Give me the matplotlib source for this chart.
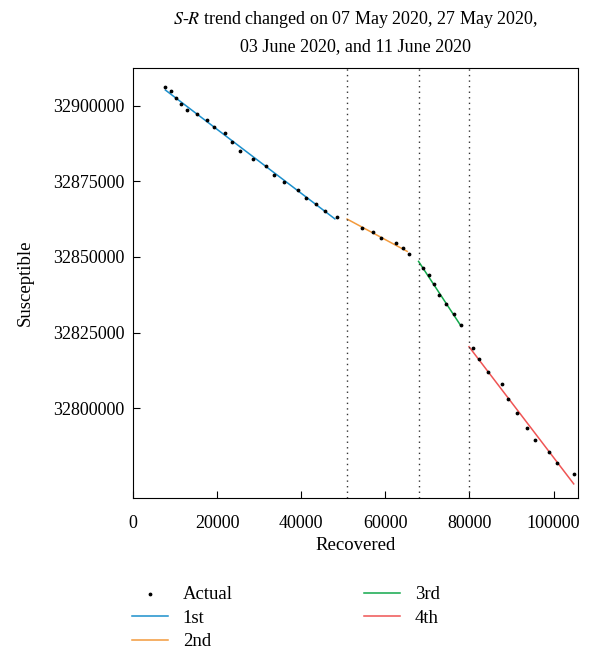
import numpy as np
import matplotlib.pyplot as plt

plt.rcParams['font.family'] = ['Liberation Serif', 'DejaVu Serif']
plt.rcParams['mathtext.fontset'] = 'stix'

x1 = [7700, 9040, 10300, 11320, 12810, 15250, 17530, 19180, 21860, 23580,
      25550, 28620, 31600, 33410, 36010, 39150, 41120, 43550, 45680, 48430]
y1 = [32906180, 32904860, 32902760, 32900770, 32898790, 32897240, 32895470,
      32892940, 32890950, 32888080, 32885210, 32882340, 32880130, 32877260,
      32874830, 32872300, 32869650, 32867660, 32865120, 32863250]
x2 = [54480, 57080, 58880, 62420, 64310, 65640]
y2 = [32859710, 32858170, 32856180, 32854530, 32852870, 32850880]
x3 = [68870, 70440, 71540, 72720, 74370, 76340, 77910]
y3 = [32846250, 32844040, 32840950, 32837420, 32834440, 32831130, 32827370]
x4 = [80820, 82310, 84430, 87810, 89150, 91270, 93630, 95520, 98820, 100790, 104800]
y4 = [32819980, 32816230, 32811920, 32807840, 32802980, 32798450, 32793270,
      32789510, 32785320, 32781680, 32778260]

breaks = [50900, 67900, 79900]
fit_ranges = [(7700, 48000), (50900, 65200), (67900, 77900), (79900, 104800)]
names = ['1st', '2nd', '3rd', '4th']
colors = ['#1b8fcc', '#f39a3c', '#12a84b', '#ef5454']

fig, ax = plt.subplots(figsize=(6.02, 6.65), dpi=100)
fig.subplots_adjust(left=0.221, right=0.96, top=0.898, bottom=0.251)

xs = np.array(x1 + x2 + x3 + x4)
ys = np.array(y1 + y2 + y3 + y4)
ax.scatter(xs, ys, s=3, color='black', zorder=3, label='Actual')

for xd, yd, (a, b), nm, c in zip([x1, x2, x3, x4], [y1, y2, y3, y4], fit_ranges, names, colors):
    p = np.polyfit(xd, yd, 1)
    xx = np.array([a, b])
    ax.plot(xx, np.polyval(p, xx), color=c, lw=1.1, label=nm)

for b in breaks:
    ax.axvline(b, color='#333333', ls=(0, (1, 3)), lw=1)

ax.set_xlim(0, 105800)
ax.set_ylim(32770200, 32912600)
ax.set_xticks([0, 20000, 40000, 60000, 80000, 100000])
ax.set_yticks([32800000, 32825000, 32850000, 32875000, 32900000])
ax.ticklabel_format(useOffset=False, style='plain')
ax.tick_params(direction='in', labelsize=13, length=5)
ax.tick_params(axis='x', pad=12)
ax.tick_params(axis='y', pad=6)
ax.set_xlabel('Recovered', fontsize=13.5, labelpad=4)
ax.set_ylabel('Susceptible', fontsize=13.5, labelpad=14)
ax.set_title('$\\mathit{S}$-$\\mathit{R}$ trend changed on 07 May 2020, 27 May 2020,\n03 June 2020, and 11 June 2020',
             fontsize=13, pad=12, linespacing=1.6)

h, l = ax.get_legend_handles_labels()
ax.legend(h, l, ncol=2, frameon=False,
          loc='upper left', bbox_to_anchor=(-0.04, -0.165), fontsize=13.5,
          columnspacing=7.0, handlelength=1.9, labelspacing=0.35)

plt.savefig('out.png', dpi=100)
